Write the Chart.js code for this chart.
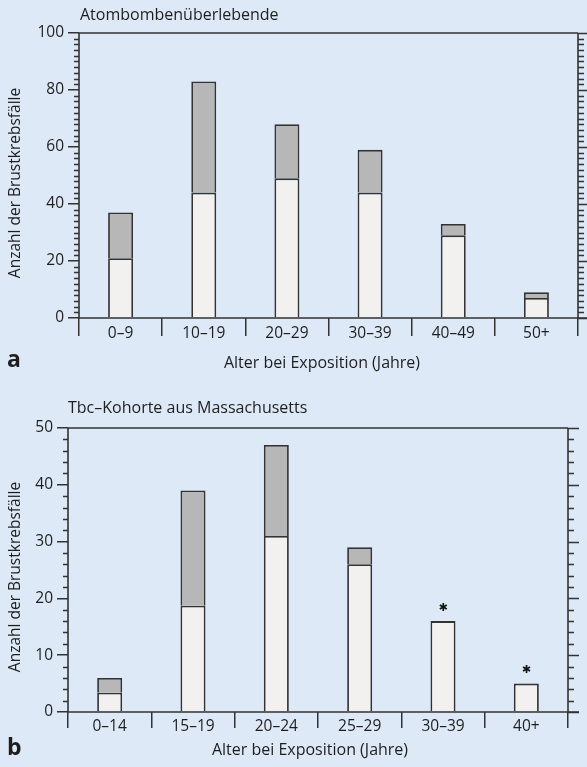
<!DOCTYPE html>
<html>
<head>
<meta charset="utf-8">
<script src="https://cdn.jsdelivr.net/npm/chart.js@4.4.1/dist/chart.umd.min.js"></script>
<style>
  html, body { margin: 0; padding: 0; background: #dde9f6; }
  #wrap { position: relative; width: 587px; height: 767px; overflow: hidden; background: #dde9f6; }
  canvas { position: absolute; left: 0; }
</style>
</head>
<body>
<div id="wrap">
  <canvas id="chartA" width="587" height="380" style="top:0"></canvas>
  <canvas id="chartB" width="587" height="387" style="top:380px"></canvas>
</div>
<script>
// Panel a: atomic bomb survivors
const ageGroupsA = ['0–9', '10–19', '20–29', '30–39', '40–49', '50+'];
const lowerA = [21, 44, 49, 44, 29, 7];
const upperA = [16, 39, 19, 15, 4, 2];
const yTickValuesA = [0, 20, 40, 60, 80, 100];

// Panel b: Massachusetts TB cohort
const ageGroupsB = ['0–14', '15–19', '20–24', '25–29', '30–39', '40+'];
const lowerB = [3.4, 18.7, 31, 26, 16, 5];
const upperB = [2.6, 20.3, 16, 3, null, null];
const yTickValuesB = [0, 10, 20, 30, 40, 50];
const starredB = [false, false, false, false, true, true];

const INK = '#333333';
const TEXT = '#1e1e1e';
const LIGHT = '#f2f1f0';
const GREY = '#b7b7b7';
const FONT = '"Open Sans", "Noto Sans", sans-serif';

// Frame, minor ticks, right-hand axis ticks, titles and star markers
const framePlugin = {
  id: 'frame',
  afterDraw(chart, args, o) {
    const { ctx, chartArea: a, scales: { x, y } } = chart;
    ctx.save();
    ctx.strokeStyle = INK;
    ctx.lineWidth = 1.6;
    ctx.beginPath();
    ctx.moveTo(a.left, a.top); ctx.lineTo(a.left, a.bottom);
    ctx.moveTo(a.right, a.top); ctx.lineTo(a.right, a.bottom);
    ctx.moveTo(a.left, a.top); ctx.lineTo(a.right, a.top);
    ctx.moveTo(a.left, a.bottom); ctx.lineTo(a.right + o.rightMajor, a.bottom);
    ctx.stroke();

    ctx.lineWidth = 1.3;
    ctx.beginPath();
    for (let v = y.min; v <= y.max + 1e-9; v += o.minor) {
      const py = Math.round(y.getPixelForValue(v)) + 0.5;
      const major = Math.abs(v / o.major - Math.round(v / o.major)) < 1e-6;
      if (!major) {
        ctx.moveTo(a.left - o.minorLen, py); ctx.lineTo(a.left, py);
      }
      ctx.moveTo(a.right, py); ctx.lineTo(a.right + (major ? o.rightMajor : o.rightMinor), py);
    }
    ctx.stroke();

    ctx.fillStyle = TEXT;
    ctx.font = '16px ' + FONT;
    ctx.textBaseline = 'middle';
    ctx.textAlign = 'left';
    ctx.fillText(o.title, o.titleX, o.titleY);

    ctx.textAlign = 'center';
    ctx.fillText(o.xTitle, o.xTitleX, o.xTitleY);

    ctx.save();
    ctx.font = '15.5px ' + FONT;
    ctx.translate(o.yTitleX, o.yTitleY);
    ctx.rotate(-Math.PI / 2);
    ctx.fillText(o.yTitle, 0, 0);
    ctx.restore();

    ctx.font = 'bold 23px ' + FONT;
    ctx.textAlign = 'left';
    ctx.fillText(o.letter, o.letterX, o.letterY);

    if (o.stars) {
      ctx.font = 'bold 11px "DejaVu Sans", sans-serif';
      ctx.textAlign = 'center';
      ctx.fillStyle = '#111';
      o.stars.forEach((s, i) => {
        if (!s) return;
        const total = chart.data.datasets.reduce((t, d) => t + (d.data[i] || 0), 0);
        ctx.fillText('✱', x.getPixelForValue(i), y.getPixelForValue(total) - 13);
      });
    }
    ctx.restore();
  }
};

function makeChart(id, labels, lower, upper, tickValues, geom, frameOpts) {
  const yMin = tickValues[0];
  const yMax = tickValues[tickValues.length - 1];
  const step = tickValues[1] - tickValues[0];
  return new Chart(document.getElementById(id), {
    type: 'bar',
    data: {
      labels: labels,
      datasets: [
        { data: lower, backgroundColor: LIGHT, borderColor: INK, borderWidth: 1.8, borderSkipped: 'start' },
        { data: upper, backgroundColor: GREY, borderColor: INK, borderWidth: 1.8, borderSkipped: 'start' }
      ]
    },
    options: {
      responsive: false,
      animation: false,
      devicePixelRatio: 1,
      layout: { padding: { left: 0, right: geom.right, top: geom.top, bottom: 0 } },
      datasets: { bar: { categoryPercentage: 1, barPercentage: 0.3 } },
      plugins: { legend: { display: false }, tooltip: { enabled: false }, frame: frameOpts },
      scales: {
        x: {
          stacked: true,
          border: { display: false },
          grid: { offset: true, drawOnChartArea: false, drawTicks: true, tickLength: geom.sepLen, color: INK, lineWidth: 1.5 },
          ticks: { color: TEXT, font: { family: FONT, size: 15.5 }, padding: geom.xPad, maxRotation: 0, autoSkip: false },
          afterFit: s => { s.height = geom.xHeight; }
        },
        y: {
          stacked: true,
          min: yMin, max: yMax,
          border: { display: false },
          grid: { drawOnChartArea: false, drawTicks: true, tickLength: 11, color: INK, lineWidth: 1.5 },
          ticks: { stepSize: step, color: TEXT, font: { family: FONT, size: 15.5 }, padding: 4 },
          afterFit: s => { s.width = geom.yWidth; }
        }
      }
    },
    plugins: [framePlugin]
  });
}

makeChart('chartA', ageGroupsA, lowerA, upperA, yTickValuesA,
  { right: 9, top: 33, yWidth: 79, xHeight: 62, sepLen: 18, xPad: -12 },
  {
    minor: 2, major: 20, minorLen: 5, rightMajor: 10, rightMinor: 6,
    title: 'Atombombenüberlebende', titleX: 80, titleY: 15,
    xTitle: 'Alter bei Exposition (Jahre)', xTitleX: 322, xTitleY: 363,
    yTitle: 'Anzahl der Brustkrebsfälle', yTitleX: 16, yTitleY: 183,
    letter: 'a', letterX: 7, letterY: 360
  });

makeChart('chartB', ageGroupsB, lowerB, upperB, yTickValuesB,
  { right: 19, top: 48, yWidth: 68, xHeight: 55, sepLen: 16, xPad: -11 },
  {
    minor: 2, major: 10, minorLen: 5, rightMajor: 11, rightMinor: 6,
    title: 'Tbc–Kohorte aus Massachusetts', titleX: 68, titleY: 28,
    xTitle: 'Alter bei Exposition (Jahre)', xTitleX: 310, xTitleY: 370,
    yTitle: 'Anzahl der Brustkrebsfälle', yTitleX: 16, yTitleY: 197,
    letter: 'b', letterX: 7, letterY: 368,
    stars: starredB
  });
</script>
</body>
</html>
